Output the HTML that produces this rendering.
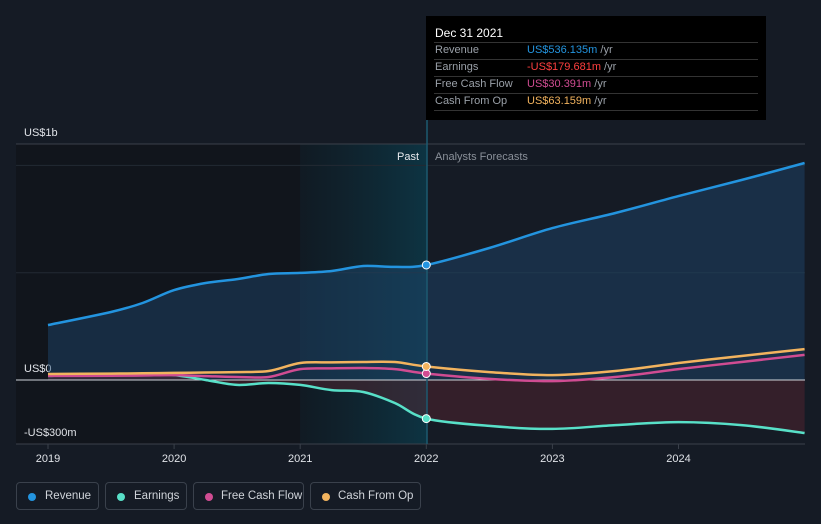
<!DOCTYPE html>
<html><head><meta charset="utf-8"><style>
html,body{margin:0;background:#151b25;width:821px;height:524px;overflow:hidden;font-family:"Liberation Sans",sans-serif}
svg text{font-family:"Liberation Sans",sans-serif}
.leg{position:absolute;top:482px;height:28px;border:1px solid #3a414c;border-radius:4px;color:#d0d4da;font-size:11.5px;line-height:26px;box-sizing:border-box;padding-left:28px;white-space:nowrap;overflow:hidden}
.leg i{position:absolute;left:11px;top:10px;width:8px;height:8px;border-radius:50%}
.sep{position:absolute;left:8px;right:8px;border-top:1px solid #333}
</style></head><body>
<svg id="c" width="821" height="524" style="position:absolute;left:0;top:0">
<defs>
<linearGradient id="past" x1="0" x2="1"><stop offset="0" stop-color="#0e1a22" stop-opacity="0.6"/><stop offset="1" stop-color="#0b3a4a" stop-opacity="0.8"/></linearGradient>
</defs>
<rect x="16" y="144" width="284" height="300" fill="#11151c"/>
<rect x="300" y="144" width="127" height="300" fill="url(#past)"/>
<g id="grid"></g>
<g id="series"></g>
</svg>
<div style="position:absolute;left:426px;top:16px;width:340px;height:104px;background:#000;font-size:11px;color:#9aa0a8">
<div style="position:absolute;left:9px;top:10px;color:#fff;font-size:12px">Dec 31 2021</div>
<div class="sep" style="top:26px"></div>
<div class="sep" style="top:43px"></div>
<div class="sep" style="top:60px"></div>
<div class="sep" style="top:77px"></div>
<div class="sep" style="top:94px"></div>
<div style="position:absolute;left:9px;top:26px;line-height:17px">Revenue<br>Earnings<br>Free Cash Flow<br>Cash From Op</div>
<div style="position:absolute;left:101px;top:26px;line-height:17px"><span style="color:#2394df">US$536.135m</span> /yr<br><span style="color:#ff3f3f">-US$179.681m</span> /yr<br><span style="color:#d04c92">US$30.391m</span> /yr<br><span style="color:#f2b35e">US$63.159m</span> /yr</div>
</div>
<div class="leg" style="left:16px;width:83px"><i style="background:#2394df"></i>Revenue</div>
<div class="leg" style="left:105px;width:82px"><i style="background:#58e0c8"></i>Earnings</div>
<div class="leg" style="left:193px;width:111px;padding-left:27px"><i style="background:#d04c92"></i>Free Cash Flow</div>
<div class="leg" style="left:310px;width:111px;padding-left:27px"><i style="background:#f2b35e"></i>Cash From Op</div>
<script>
const years=[2019,2019.5,2019.75,2020,2020.25,2020.5,2020.75,2021,2021.25,2021.5,2021.75,2022,2022.5,2023,2023.5,2024,2024.5,2025];
const revenue=[256,317,359,419,452,470,494,499,508,531,527,536,615,708,778,857,932,1011];
const earnings=[19,28,25,23,0,-23,-14,-23,-47,-56,-107,-180,-214,-228,-210,-196,-210,-247];
const fcf=[19,20,21,23,18,14,14,51,54,56,51,30,5,-5,14,51,84,117];
const cfo=[28,30,31,33,35,37,42,79,82,84,84,63,37,23,42,79,112,144];
const xTicks=[2019,2020,2021,2022,2023,2024];
const yTicks=[{v:1000,l:"US$1b"},{v:0,l:"US$0"},{v:-300,l:"-US$300m"}];
const NS="http://www.w3.org/2000/svg";
const X=v=>48+(v-2019)*126.1, Y=v=>380-v*0.2146;
function mk(t,a,p){const e=document.createElementNS(NS,t);for(const k in a)e.setAttribute(k,a[k]);p.appendChild(e);return e;}
const g=document.getElementById('grid'),s=document.getElementById('series');
let l=mk('line',{x1:16,x2:805,y1:144,y2:144,stroke:'#3a404a'},g);


l=mk('line',{x1:16,x2:805,y1:444,y2:444,stroke:'#3a404a'},g);


[1000,500].forEach(v=>{const e=mk('line',{x1:16,x2:805,y1:Y(v),y2:Y(v),stroke:'#232a33'},g);

});
yTicks.forEach(t=>{const e=mk('text',{x:24,y:t.v==1000?136:(t.v==0?372:436),fill:'#e0e3e8','font-size':11},g);e.textContent=t.l;

});
xTicks.forEach(v=>{const t=mk('line',{x1:X(v),x2:X(v),y1:444,y2:449,stroke:'#3a404a'},g);


const e=mk('text',{x:X(v),y:462,fill:'#e0e3e8','font-size':11,'text-anchor':'middle'},g);e.textContent=v;

});
function path(arr){
  const P=arr.map((v,i)=>[X(years[i]),Y(v)]);
  let d='M'+P[0][0].toFixed(1)+','+P[0][1].toFixed(1);
  for(let i=0;i<P.length-1;i++){
    const p0=P[i-1]||P[i],p1=P[i],p2=P[i+1],p3=P[i+2]||P[i+1];
    const t=0.16;
    const c1=[p1[0]+(p2[0]-p0[0])*t,p1[1]+(p2[1]-p0[1])*t];
    const c2=[p2[0]-(p3[0]-p1[0])*t,p2[1]-(p3[1]-p1[1])*t];
    d+=`C${c1[0].toFixed(1)},${c1[1].toFixed(1)} ${c2[0].toFixed(1)},${c2[1].toFixed(1)} ${p2[0].toFixed(1)},${p2[1].toFixed(1)}`;
  }
  return d;
}
const last=X(years[years.length-1]),first=X(years[0]);
let a=mk('path',{d:path(revenue)+`L${last},380L${first},380Z`,fill:'#1e4a72','fill-opacity':0.45},s);


a=mk('path',{d:path(earnings)+`L${last},380L${first},380Z`,fill:'#5a2530','fill-opacity':0.45},s);


l=mk('line',{x1:16,x2:805,y1:380,y2:380,stroke:'#d0d4da'},s);


l=mk('line',{x1:427,x2:427,y1:120,y2:444,stroke:'#1d5a70','stroke-width':1.5},s);


let t=mk('text',{x:419,y:160,fill:'#e8eaee','font-size':11,'text-anchor':'end'},s);t.textContent='Past';


t=mk('text',{x:435,y:160,fill:'#8a9099','font-size':11},s);t.textContent='Analysts Forecasts';


[[earnings,'#58e0c8','earnings-line'],[fcf,'#d04c92','free-cash-flow-line'],[cfo,'#f2b35e','cash-from-op-line'],[revenue,'#2394df','revenue-line']].forEach(([arr,c,n])=>{
const p=mk('path',{d:path(arr),fill:'none',stroke:c,'stroke-width':2.5,'stroke-linejoin':'round'},s);


const i=years.indexOf(2022);
const dot=mk('circle',{cx:X(2022),cy:Y(arr[i]),r:4,fill:c,stroke:'#fff','stroke-width':1},s);


});
</script>
</body></html>
